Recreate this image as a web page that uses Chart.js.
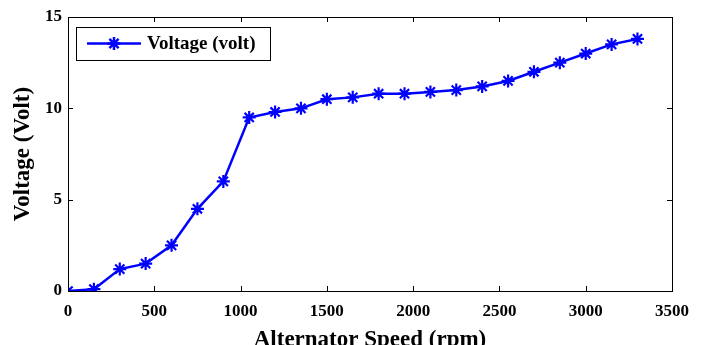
<!DOCTYPE html>
<html>
<head>
<meta charset="utf-8">
<script src="https://cdn.jsdelivr.net/npm/chart.js@4/dist/chart.umd.min.js"></script>
<style>
  html, body { margin: 0; padding: 0; background: #fff; }
  #wrap { width: 704px; height: 345px; }
</style>
</head>
<body>
<div id="wrap"><canvas id="myChart" width="704" height="345"></canvas></div>
<script>
// alternator speed (rpm) and measured voltage
var speeds = [0, 150, 300, 450, 600, 750, 900, 1050, 1200, 1350, 1500, 1650,
              1800, 1950, 2100, 2250, 2400, 2550, 2700, 2850, 3000, 3150, 3300];
var voltages = [0, 0.1, 1.2, 1.5, 2.5, 4.5, 6.0, 9.5, 9.8, 10.0, 10.5, 10.6,
                10.8, 10.8, 10.9, 11.0, 11.2, 11.5, 12.0, 12.5, 13.0, 13.5, 13.8];
var xTicks = [0, 500, 1000, 1500, 2000, 2500, 3000, 3500];
var yTicks = [0, 5, 10, 15];
var seriesLabel = 'Voltage (volt)';

var serif = '"Liberation Serif", "Times New Roman", serif';

// matlab style box with inward ticks
var boxPlugin = {
    id: 'box',
    afterDraw: function(chart) {
        var c = chart.ctx, a = chart.chartArea;
        var xs = chart.scales.x, ys = chart.scales.y;
        c.save();
        c.strokeStyle = '#000';
        c.lineWidth = 1;
        c.strokeRect(a.left + 0.5, a.top + 0.5, a.right - a.left, a.bottom - a.top);
        c.beginPath();
        xTicks.forEach(function(v) {
            var px = Math.round(xs.getPixelForValue(v)) + 0.5;
            c.moveTo(px, a.bottom); c.lineTo(px, a.bottom - 5);
            c.moveTo(px, a.top); c.lineTo(px, a.top + 5);
        });
        yTicks.forEach(function(v) {
            var py = Math.round(ys.getPixelForValue(v)) + 0.5;
            c.moveTo(a.left, py); c.lineTo(a.left + 5, py);
            c.moveTo(a.right, py); c.lineTo(a.right - 5, py);
        });
        c.stroke();

        // legend box
        var lx = 76, ly = 27, lw = 194, lh = 33;
        c.fillStyle = '#fff';
        c.fillRect(lx, ly, lw, lh);
        c.strokeRect(lx + 0.5, ly + 0.5, lw, lh);
        var my = ly + 16.5;
        c.strokeStyle = '#0000ff';
        c.lineWidth = 2.5;
        c.beginPath();
        c.moveTo(87, my); c.lineTo(141, my);
        c.stroke();
        Chart.helpers.drawPoint(c, {pointStyle: 'star', radius: 6.5, borderWidth: 2}, 114, my);
        c.fillStyle = '#000';
        c.font = 'bold 19px ' + serif;
        c.textBaseline = 'middle';
        c.fillText(seriesLabel, 147, my + 1);
        c.restore();
    }
};

var ctx = document.getElementById('myChart').getContext('2d');
var myChart = new Chart(ctx, {
    type: 'line',
    data: {
        datasets: [{
            label: seriesLabel,
            data: speeds.map(function(s, i) { return {x: s, y: voltages[i]}; }),
            borderColor: '#0000ff',
            backgroundColor: '#0000ff',
            borderWidth: 2.5,
            pointStyle: 'star',
            pointRadius: 6.5,
            pointBorderWidth: 2.2,
            pointBorderColor: '#0000ff',
            tension: 0,
            fill: false
        }]
    },
    options: {
        responsive: false,
        animation: false,
        layout: { padding: { top: 17, right: 32, left: 0, bottom: 0 } },
        plugins: {
            legend: { display: false },
            tooltip: { enabled: false }
        },
        scales: {
            x: {
                type: 'linear',
                min: 0, max: 3500,
                afterFit: function(s) { s.height = 54; },
                grid: { display: false, drawTicks: false },
                border: { display: false },
                ticks: {
                    stepSize: 500,
                    padding: 10,
                    color: '#000',
                    font: { family: serif, size: 17, weight: 'bold' },
                    callback: function(v) { return String(v); }
                },
                title: {
                    display: true,
                    text: 'Alternator Speed (rpm)',
                    color: '#000',
                    padding: { top: 0, bottom: -9 },
                    font: { family: serif, size: 23, weight: 'bold' }
                }
            },
            y: {
                min: 0, max: 15,
                afterFit: function(s) { s.width = 68; },
                grid: { display: false, drawTicks: false },
                border: { display: false },
                ticks: {
                    stepSize: 5,
                    padding: 6,
                    color: '#000',
                    font: { family: serif, size: 17, weight: 'bold' }
                },
                title: {
                    display: true,
                    text: 'Voltage (Volt)',
                    color: '#000',
                    padding: { top: 9, bottom: 0 },
                    font: { family: serif, size: 23, weight: 'bold' }
                }
            }
        }
    },
    plugins: [boxPlugin]
});
</script>
</body>
</html>
